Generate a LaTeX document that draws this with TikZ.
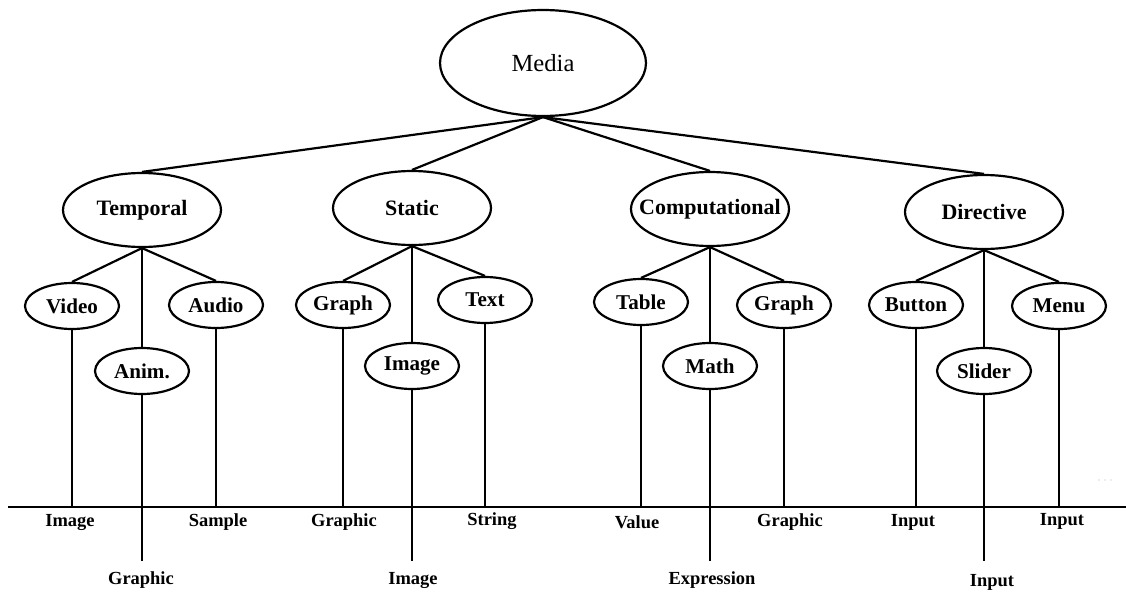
\documentclass[tikz,border=0pt]{standalone}
\usepackage{fontspec}
\setmainfont{Liberation Serif}
\usetikzlibrary{shapes.geometric}
% text that does not widen the ellipse around it
\newcommand\nowidth[1]{\makebox[0pt]{#1}}
\begin{document}
\begin{tikzpicture}[x=0.02cm, y=-0.02cm, line width=1.25pt,
  every node/.style={inner sep=0pt},
  oval/.style={ellipse, draw, line width=1.25pt, fill=white},
  root/.style={oval, minimum width=4.12cm, minimum height=2.12cm,
    font=\fontsize{14}{16}\selectfont},
  kind/.style={oval, minimum width=3.16cm, minimum height=1.48cm,
    font=\bfseries\fontsize{12.5}{14}\selectfont},
  item/.style={oval, minimum width=1.88cm, minimum height=0.92cm,
    font=\bfseries\fontsize{12}{14}\selectfont},
  leaf/.style={font=\bfseries\fontsize{10.5}{12}\selectfont},
  link/.style={line width=1.25pt}]
\useasboundingbox (0,0) rectangle (1126,592);

% root and the four kinds of media
\node[root] (media) at (543,63) {\nowidth{Media}};
\node[kind] (temporal) at (142,210) {\nowidth{Temporal}};
\node[kind] (static) at (412,208) {\nowidth{Static}};
\node[kind] (comp) at (710,209) {\nowidth{Computational}};
\node[kind] (directive) at (984,212) {\nowidth{Directive}};

\foreach \k in {temporal,static,comp,directive}
  \draw[link] (media.south) -- (\k.north);

% media items
\node[item] (video) at (72,306) {\nowidth{Video}};
\node[item] (anim) at (142,371) {\nowidth{Anim.}};
\node[item] (audio) at (216,305) {\nowidth{Audio}};
\node[item] (graphA) at (343,305) {\nowidth{Graph}};
\node[item] (image) at (412,366) {\nowidth{Image}};
\node[item] (text) at (485,300) {\nowidth{Text}};
\node[item] (table) at (641,302) {\nowidth{Table}};
\node[item] (math) at (710,366) {\nowidth{Math}};
\node[item] (graphB) at (784,305) {\nowidth{Graph}};
\node[item] (button) at (916,305) {\nowidth{Button}};
\node[item] (slider) at (984,371) {\nowidth{Slider}};
\node[item] (menu) at (1059,306) {\nowidth{Menu}};

\draw[link] (temporal.south) -- (video.north);
\draw[link] (temporal.south) -- (anim.north);
\draw[link] (temporal.south) -- (audio.north);
\draw[link] (static.south) -- (graphA.north);
\draw[link] (static.south) -- (image.north);
\draw[link] (static.south) -- (text.north);
\draw[link] (comp.south) -- (table.north);
\draw[link] (comp.south) -- (math.north);
\draw[link] (comp.south) -- (graphB.north);
\draw[link] (directive.south) -- (button.north);
\draw[link] (directive.south) -- (slider.north);
\draw[link] (directive.south) -- (menu.north);

% the base line and the drops to it
\coordinate (bl) at (8,507);
\coordinate (br) at (1126,507);
\coordinate (low) at (0,561);
\draw[link] (bl) -- (br);

\foreach \n in {video,audio,graphA,text,table,graphB,button,menu}
  \draw[link] (\n.south) -- (\n.south |- bl);
\foreach \n in {anim,image,math,slider}
  \draw[link] (\n.south) -- (\n.south |- low);

% representation labels
\node[leaf] (l1) at (70,522) {Image};
\node[leaf] (l2) at (218,522) {Sample};
\node[leaf] (l3) at (344,522) {Graphic};
\node[leaf] (l4) at (492,521) {String};
\node[leaf] (l5) at (637,522) {Value};
\node[leaf] (l6) at (790,522) {Graphic};
\node[leaf] (l7) at (913,522) {Input};
\node[leaf] (l8) at (1062,521) {Input};
\node[leaf] (l9) at (141,580) {Graphic};
\node[leaf] (l10) at (413,580) {Image};
\node[leaf] (l11) at (712,580) {Expression};
\node[leaf] (l12) at (992,582) {Input};

% faint dots at the right edge
\foreach \dx in {1099,1105,1111}
  \fill[gray!60] (\dx,480) circle (0.6);
\end{tikzpicture}
\end{document}
